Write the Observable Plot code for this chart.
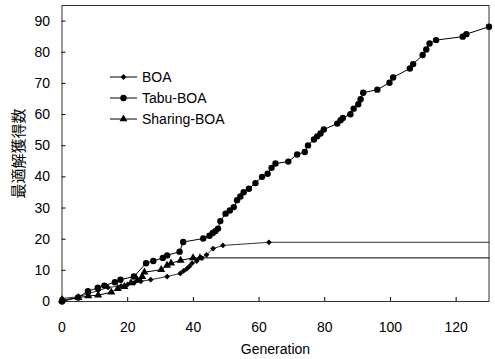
<!DOCTYPE html>
<html><head><meta charset="utf-8">
<script src="https://cdn.jsdelivr.net/npm/d3@7"></script>
<script src="https://cdn.jsdelivr.net/npm/@observablehq/plot@0.6"></script>
<style>
body{margin:0;background:#fff;font-family:"Liberation Sans",Arial,sans-serif;}
#wrap{position:relative;width:495px;height:359px;}
#legend{position:absolute;left:110px;top:66px;font-size:14px;color:#000;}
#legend .row{height:21px;display:flex;align-items:center;}
#legend svg{margin-right:4px;}
</style>
</head><body>
<div id="wrap"><div id="legend"></div></div>
<script>
const xTicks = [0, 20, 40, 60, 80, 100, 120];
const yTicks = [0, 10, 20, 30, 40, 50, 60, 70, 80, 90];
const xLabel = "Generation";
const yLabel = "最適解獲得数";
const seriesNames = ["BOA", "Tabu-BOA", "Sharing-BOA"];

const boaX = [0, 5, 8, 11, 14, 18, 20, 22, 24, 27, 32, 36, 37, 38, 38.8, 39.6, 41, 42.5, 44, 46, 49, 63, 130];
const boaY = [1, 1.5, 2.5, 3.5, 4.5, 5, 5.5, 6, 6.5, 7, 8, 9, 9.8, 10.5, 11.3, 12.3, 13, 14, 15, 17, 18, 19, 19];

const tabuX = [0, 4.9, 7.9, 10.9, 12.9, 16.1, 17.8, 21.9, 25.6, 27.8, 30.7, 32, 35.8, 36.9, 43, 44.9, 45.9, 46.7, 47.5, 48.2, 49.8, 51.1, 52.3, 53.3, 54.3, 55.3, 56.9, 58.9, 60.9, 62.6, 63.8, 65, 68.9, 71.6, 73.9, 74.9, 76.7, 77.7, 78.7, 79.7, 83.8, 84.8, 85.5, 87.8, 88.8, 90.2, 90.9, 91.7, 96, 99.7, 100.8, 105.9, 106.9, 109.8, 110.9, 111.9, 113.9, 122, 123.1, 130];
const tabuY = [0, 1.3, 3.3, 4.4, 5.1, 6.2, 7.0, 8.0, 12.3, 13.0, 14.0, 14.8, 16.0, 19.1, 20.2, 21.1, 22.0, 22.6, 23.4, 25.8, 28.2, 29.2, 30.3, 32.5, 33.7, 35.1, 36.2, 38.0, 40.0, 41.0, 42.9, 44.3, 44.9, 47.2, 48.0, 50.1, 52.0, 53.0, 53.9, 55.2, 57.1, 58.2, 58.9, 60.1, 61.9, 63.3, 64.9, 67.0, 68.0, 70.2, 71.9, 74.8, 76.2, 79.1, 80.9, 82.8, 83.9, 85.0, 85.8, 88.2];

const shareX = [0, 5, 8, 11, 15, 17, 19, 21, 23, 24.4, 25.1, 30.2, 32, 33.2, 36.1, 39.9, 42, 130];
const shareY = [0.5, 1.2, 1.8, 2.0, 3, 4.1, 4.8, 6, 6.8, 8, 9.4, 10.2, 11.6, 12.3, 13.2, 14, 14, 14];

const mk = (xs, ys) => xs.map((x, i) => ({x, y: ys[i]}));
const boa = mk(boaX, boaY), tabu = mk(tabuX, tabuY), share = mk(shareX, shareY);
const xMax = 130;

const font = "'Liberation Sans', Arial, sans-serif";
const chart = Plot.plot({
  width: 495, height: 359,
  marginLeft: 61.5, marginRight: 6.5, marginTop: 5, marginBottom: 58,
  style: {fontFamily: font, fontSize: "14px", color: "#000", background: "#fff"},
  x: {domain: [0, 130], axis: null},
  y: {domain: [0, 95], axis: null},
  marks: [
    Plot.axisX({ticks: xTicks, tickSize: -4, tickPadding: 25, fontSize: 14, label: null, stroke: "#000"}),
    Plot.axisY({ticks: yTicks, tickSize: -4, tickPadding: 16, fontSize: 14, label: null, stroke: "#000"}),
    Plot.frame({stroke: "#333", strokeWidth: 1}),
    Plot.line(boa, {x: "x", y: "y", stroke: "#333", strokeWidth: 1}),
    Plot.line(share, {x: "x", y: "y", stroke: "#000", strokeWidth: 1}),
    Plot.line(tabu, {x: "x", y: "y", stroke: "#000", strokeWidth: 1}),
    Plot.dot(boa.filter(d => d.x < xMax), {x: "x", y: "y", symbol: "diamond2", r: 2.6, fill: "#000"}),
    Plot.dot(share.filter(d => d.x < xMax), {x: "x", y: "y", symbol: "triangle", r: 3, fill: "#000"}),
    Plot.dot(tabu, {x: "x", y: "y", symbol: "circle", r: 3.2, fill: "#000"}),
    Plot.text([xLabel], {text: d => d, frameAnchor: "bottom", dy: 52, fontSize: 14, fill: "#000"}),
    Plot.text([yLabel], {text: d => d, frameAnchor: "left", textAnchor: "middle", dx: -43, rotate: -90, fontSize: 15, fill: "#000", fontFamily: "'Noto Sans CJK JP', sans-serif"})
  ]
});
document.getElementById("wrap").prepend(chart);

const symbols = {"BOA": d3.symbolDiamond2, "Tabu-BOA": d3.symbolCircle, "Sharing-BOA": d3.symbolTriangle};
const sizes = {"BOA": 22, "Tabu-BOA": 32, "Sharing-BOA": 26};
const leg = d3.select("#legend");
seriesNames.forEach(name => {
  const row = leg.append("div").attr("class", "row");
  const s = row.append("svg").attr("width", 28).attr("height", 10);
  s.append("line").attr("x1", 0).attr("x2", 27).attr("y1", 5).attr("y2", 5).attr("stroke", "#000");
  s.append("path").attr("transform", "translate(13.5,5)").attr("d", d3.symbol(symbols[name], sizes[name])()).attr("fill", "#000");
  row.append("span").text(name);
});
</script>
</body></html>
